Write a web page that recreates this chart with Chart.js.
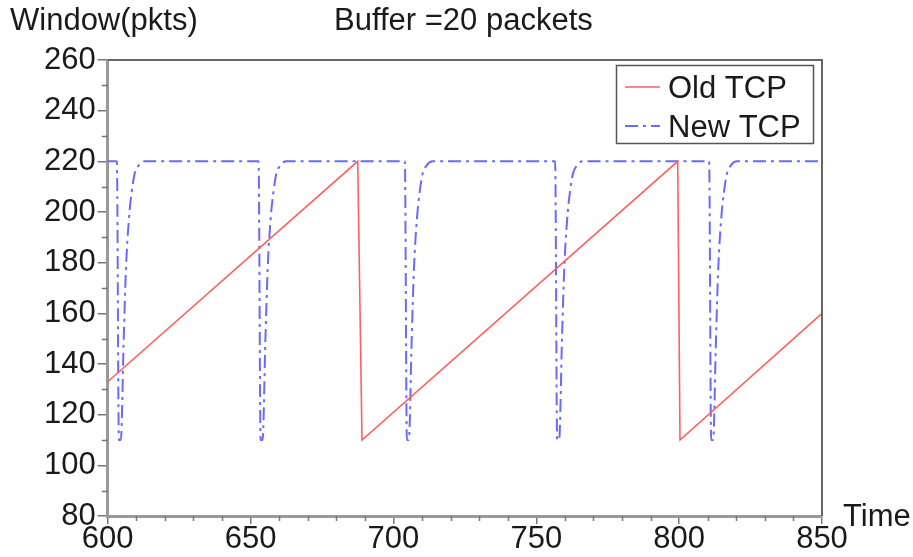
<!DOCTYPE html>
<html>
<head>
<meta charset="utf-8">
<script src="https://cdn.jsdelivr.net/npm/chart.js@4.4.1/dist/chart.umd.min.js"></script>
<style>
html,body{margin:0;padding:0;background:#fff;}
#c{display:block;}
</style>
</head>
<body>
<canvas id="c" width="913" height="557"></canvas>
<script>
// ---- data ----
const titleLeft = "Window(pkts)";
const titleMid = "Buffer =20 packets";
const xAxisLabel = "Time";
const seriesNames = ["Old TCP", "New TCP"];

const xTicks = [600, 650, 700, 750, 800, 850];
const yTicks = [80, 100, 120, 140, 160, 180, 200, 220, 240, 260];

const oldX = [600, 687.5, 689, 799.5, 800.3, 850];
const oldY = [133, 220, 110, 220, 110, 160];

const newX = [600,
  603.2, 603.9, 604.6, 605.6, 606.4, 607.4, 608.4, 609.4, 610.9, 612.9,
  652.8, 653.5, 654.2, 655.2, 656.0, 657.0, 658.0, 659.0, 660.5, 662.5,
  704.0, 704.7, 705.4, 706.4, 707.2, 708.2, 709.2, 710.2, 711.7, 713.7,
  756.6, 757.3, 758.0, 759.0, 759.8, 760.8, 761.8, 762.8, 764.3, 766.3,
  810.5, 811.2, 811.9, 812.9, 813.7, 814.7, 815.7, 816.7, 818.2, 820.2,
  850];
const newY = [220,
  220, 110, 110, 150, 178, 197, 208, 215, 218.5, 220,
  220, 110, 110, 150, 178, 197, 208, 215, 218.5, 220,
  220, 110, 110, 150, 178, 197, 208, 215, 218.5, 220,
  220, 110, 110, 150, 178, 197, 208, 215, 218.5, 220,
  220, 110, 110, 150, 178, 197, 208, 215, 218.5, 220,
  220];

const RED = 'rgb(255,95,95)';
const BLUE = 'rgb(105,105,255)';
const BLUE_DASH = [13, 5, 3, 5];
const FONT = '"Liberation Sans", Arial, Helvetica, sans-serif';

const toPts = (xs, ys) => xs.map((x, i) => ({x: x, y: ys[i]}));

const decor = {
  id: 'decor',
  afterDraw(chart) {
    const ctx = chart.ctx;
    const a = chart.chartArea;
    const xs = chart.scales.x, ys = chart.scales.y;
    ctx.save();
    // minor ticks
    ctx.strokeStyle = '#777';
    ctx.lineWidth = 1.5;
    ctx.beginPath();
    for (let v = xs.min; v <= xs.max; v += 10) {
      if (xTicks.includes(v)) continue;
      const px = Math.round(xs.getPixelForValue(v)) + 0.5;
      ctx.moveTo(px, a.bottom);
      ctx.lineTo(px, a.bottom + 5);
    }
    for (let v = ys.min; v <= ys.max; v += 10) {
      if (yTicks.includes(v)) continue;
      const py = Math.round(ys.getPixelForValue(v)) + 0.5;
      ctx.moveTo(a.left, py);
      ctx.lineTo(a.left - 6, py);
    }
    ctx.stroke();
    // top & right frame
    ctx.strokeStyle = '#666';
    ctx.lineWidth = 2;
    ctx.beginPath();
    ctx.moveTo(a.left, a.top);
    ctx.lineTo(a.right, a.top);
    ctx.lineTo(a.right, a.bottom);
    ctx.stroke();
    // texts
    ctx.fillStyle = '#1a1a1a';
    ctx.font = '31px ' + FONT;
    ctx.textBaseline = 'alphabetic';
    ctx.textAlign = 'left';
    ctx.fillText(titleLeft, 10, 30);
    ctx.fillText(titleMid, 334, 30);
    ctx.fillText(xAxisLabel, a.right + 21, a.bottom + 10);
    // legend
    const bx = a.right - 206, by = a.top + 5, bw = 197, bh = 78;
    ctx.strokeStyle = '#555';
    ctx.lineWidth = 1.5;
    ctx.strokeRect(bx + 0.5, by + 0.5, bw, bh);
    ctx.lineWidth = 1.5;
    ctx.strokeStyle = RED;
    ctx.beginPath();
    ctx.moveTo(bx + 9, by + 22);
    ctx.lineTo(bx + 44, by + 22);
    ctx.stroke();
    ctx.strokeStyle = BLUE;
    ctx.lineWidth = 2;
    ctx.setLineDash(BLUE_DASH);
    ctx.beginPath();
    ctx.moveTo(bx + 9, by + 61);
    ctx.lineTo(bx + 44, by + 61);
    ctx.stroke();
    ctx.setLineDash([]);
    ctx.fillStyle = '#1a1a1a';
    ctx.fillText(seriesNames[0], bx + 52, by + 33);
    ctx.fillText(seriesNames[1], bx + 52, by + 72);
    ctx.restore();
  }
};

new Chart(document.getElementById('c'), {
  type: 'line',
  data: {
    datasets: [
      {
        label: seriesNames[0],
        data: toPts(oldX, oldY),
        borderColor: RED,
        borderWidth: 1.6,
        pointRadius: 0,
        tension: 0,
        fill: false
      },
      {
        label: seriesNames[1],
        data: toPts(newX, newY),
        borderColor: BLUE,
        borderWidth: 2,
        borderDash: BLUE_DASH,
        pointRadius: 0,
        cubicInterpolationMode: 'monotone',
        fill: false
      }
    ]
  },
  options: {
    responsive: false,
    animation: false,
    devicePixelRatio: 1,
    layout: { padding: { left: 42, right: 91, top: 60, bottom: 2 } },
    plugins: { legend: { display: false }, title: { display: false }, tooltip: { enabled: false } },
    scales: {
      x: {
        type: 'linear',
        min: 600, max: 850,
        afterBuildTicks: (s) => { s.ticks = xTicks.map(v => ({value: v})); },
        ticks: {
          font: { family: FONT, size: 31, lineHeight: 1 },
          color: '#1a1a1a',
          padding: 0,
          maxRotation: 0,
          autoSkip: false
        },
        grid: { display: true, drawOnChartArea: false, drawTicks: true, tickLength: 8, color: '#777', lineWidth: 1.5 },
        border: { display: true, color: '#999', width: 3 }
      },
      y: {
        type: 'linear',
        min: 80, max: 260,
        afterBuildTicks: (s) => { s.ticks = yTicks.map(v => ({value: v})); },
        ticks: {
          font: { family: FONT, size: 31, lineHeight: 1 },
          color: '#1a1a1a',
          padding: 2,
          autoSkip: false
        },
        grid: { display: true, drawOnChartArea: false, drawTicks: true, tickLength: 10, color: '#777', lineWidth: 1.5 },
        border: { display: true, color: '#999', width: 3 }
      }
    }
  },
  plugins: [decor]
});
</script>
</body>
</html>
